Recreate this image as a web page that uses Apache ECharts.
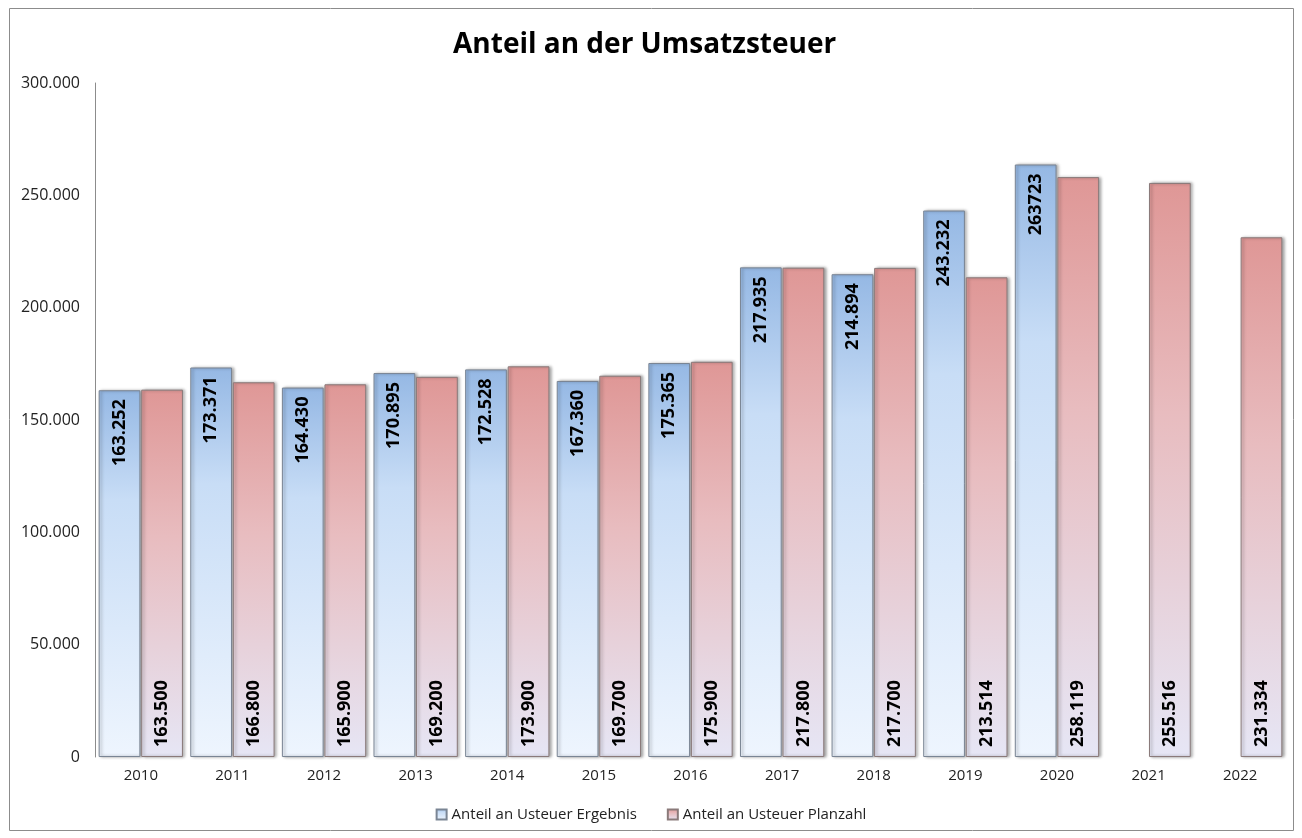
<!DOCTYPE html>
<html>
<head>
<meta charset="utf-8">
<script src="https://cdn.jsdelivr.net/npm/echarts@6/dist/echarts.min.js"></script>
<style>
  html, body { margin: 0; padding: 0; background: #fff; }
  #chart { width: 1302px; height: 838px; }
</style>
</head>
<body>
<div id="chart"></div>
<script>
var years = ['2010', '2011', '2012', '2013', '2014', '2015', '2016', '2017', '2018', '2019', '2020', '2021', '2022'];
var ergebnis = [163252, 173371, 164430, 170895, 172528, 167360, 175365, 217935, 214894, 243232, 263723, null, null];
var ergebnisLabels = ['163.252', '173.371', '164.430', '170.895', '172.528', '167.360', '175.365', '217.935', '214.894', '243.232', '263723', '', ''];
var planzahl = [163500, 166800, 165900, 169200, 173900, 169700, 175900, 217800, 217700, 213514, 258119, 255516, 231334];

// Tausenderpunkt wie im Original
function fmt(v) {
    return String(v).replace(/\B(?=(\d{3})+(?!\d))/g, '.');
}

(function () {
    var myChart = echarts.init(document.getElementById('chart'));
    var font = '"Open Sans", "Liberation Sans", sans-serif';

    var option = {
        backgroundColor: '#fff',
        textStyle: { fontFamily: font },
        title: {
            text: 'Anteil an der Umsatzsteuer',
            left: 448,
            top: 26,
            textStyle: { fontSize: 28, fontWeight: 'bold', color: '#000', fontFamily: font }
        },
        graphic: [{
            type: 'rect',
            shape: { x: 9.5, y: 8.5, width: 1284, height: 822 },
            style: { fill: 'none', stroke: '#8c8c8c', lineWidth: 1 },
            silent: true
        }],
        legend: {
            bottom: 11,
            left: 'center',
            itemGap: 30,
            itemWidth: 10,
            itemHeight: 10,
            icon: 'rect',
            textStyle: { fontSize: 15, color: '#222', fontFamily: font },
            data: ['Anteil an Usteuer Ergebnis', 'Anteil an Usteuer Planzahl']
        },
        grid: {
            left: 95,
            right: 16,
            top: 83,
            bottom: 81
        },
        xAxis: {
            type: 'category',
            data: years,
            axisLine: { show: false },
            axisTick: { show: false },
            axisLabel: { color: '#222', fontSize: 15, margin: 11 }
        },
        yAxis: {
            type: 'value',
            min: 0,
            max: 300000,
            interval: 50000,
            axisLine: { show: true, lineStyle: { color: '#8c8c8c' } },
            axisTick: { show: false },
            splitLine: { show: false },
            axisLabel: {
                color: '#222',
                fontSize: 16,
                margin: 15,
                formatter: function (v) { return fmt(v); }
            }
        },
        series: [
            {
                name: 'Anteil an Usteuer Ergebnis',
                type: 'bar',
                data: ergebnis,
                barGap: '2%',
                barCategoryGap: '8%',
                itemStyle: {
                    color: new echarts.graphic.LinearGradient(0, 0, 0, 1, [
                        { offset: 0, color: '#95b8e4' },
                        { offset: 0.3, color: '#c8ddf6' },
                        { offset: 1, color: '#eef5fe' }
                    ]),
                    borderColor: '#7a8594',
                    borderWidth: 1,
                    shadowColor: 'rgba(0,0,0,0.35)',
                    shadowBlur: 3,
                    shadowOffsetX: 2
                },
                label: {
                    show: true,
                    position: 'insideTop',
                    rotate: 90,
                    align: 'right',
                    verticalAlign: 'middle',
                    distance: 9,
                    fontSize: 18,
                    fontWeight: 'bold',
                    color: '#000',
                    formatter: function (p) { return ergebnisLabels[p.dataIndex]; }
                }
            },
            {
                name: 'Anteil an Usteuer Planzahl',
                type: 'bar',
                data: planzahl,
                itemStyle: {
                    color: new echarts.graphic.LinearGradient(0, 0, 0, 1, [
                        { offset: 0, color: '#df9796' },
                        { offset: 0.4, color: '#e8bcbf' },
                        { offset: 1, color: '#e6e6f5' }
                    ]),
                    borderColor: '#8a7a7a',
                    borderWidth: 1,
                    shadowColor: 'rgba(0,0,0,0.35)',
                    shadowBlur: 3,
                    shadowOffsetX: 2
                },
                label: {
                    show: true,
                    position: 'insideBottom',
                    rotate: 90,
                    align: 'left',
                    verticalAlign: 'middle',
                    distance: 10,
                    fontSize: 18,
                    fontWeight: 'bold',
                    color: '#000',
                    formatter: function (p) { return fmt(p.value); }
                }
            }
        ]
    };
    myChart.setOption(option);
    window.addEventListener('resize', function () {
        myChart.resize();
    });
})();
</script>
</body>
</html>
